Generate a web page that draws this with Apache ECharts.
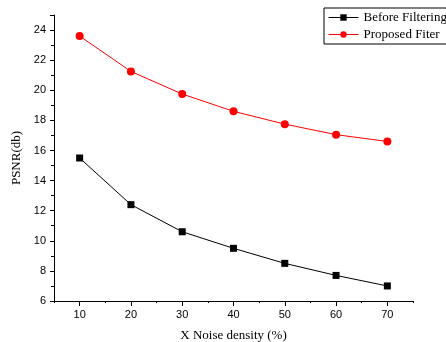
<!DOCTYPE html>
<html><head><meta charset="utf-8">
<script src="https://cdn.jsdelivr.net/npm/echarts@6/dist/echarts.min.js"></script>
<style>html,body{margin:0;padding:0;background:#fff}#c{width:446px;height:342px}</style>
</head><body><div id="c"></div>
<script>
const noise = [10, 20, 30, 40, 50, 60, 70];
const beforeFiltering = [15.5, 12.4, 10.6, 9.5, 8.5, 7.7, 7.0];
const proposedFilter = [23.6, 21.25, 19.75, 18.6, 17.75, 17.05, 16.6];
const xTickLabels = [10, 20, 30, 40, 50, 60, 70];
const seriesNames = ['Before Filtering', 'Proposed Fiter'];

const chart = echarts.init(document.getElementById('c'), null, {renderer: 'canvas'});
const labelFont = {color: '#000', fontFamily: 'Liberation Sans', fontSize: 11};
const nameFont = {fontFamily: 'Liberation Serif', fontSize: 13, color: '#000'};
chart.setOption({
  animation: false,
  backgroundColor: '#fff',
  grid: {left: 54, top: 15, right: 33, bottom: 41, containLabel: false, outerBoundsMode: 'none'},
  legend: {
    left: 324, top: 8, orient: 'vertical',
    borderColor: '#000', borderWidth: 1, padding: [3, 40, 3, 4],
    itemWidth: 30, itemHeight: 8, itemGap: 4,
    lineStyle: {width: 1},
    textStyle: {fontFamily: 'Liberation Serif', fontSize: 13, color: '#000'},
    data: seriesNames
  },
  xAxis: [{
    type: 'value', min: 5, max: 75, interval: 5,
    axisLine: {show: true, lineStyle: {color: '#000', width: 1}},
    axisTick: {show: true, length: 2, lineStyle: {color: '#000'}},
    splitLine: {show: false},
    axisLabel: Object.assign({}, labelFont, {margin: 8, customValues: xTickLabels}),
    name: 'X Noise density (%)', nameLocation: 'middle', nameGap: 28,
    nameTextStyle: nameFont
  }, {
    type: 'value', min: 5, max: 75, interval: 5, position: 'bottom',
    axisLine: {show: false},
    axisTick: {show: true, length: 5, lineStyle: {color: '#000'}, customValues: xTickLabels},
    axisLabel: {show: false},
    splitLine: {show: false}
  }],
  yAxis: {
    type: 'value', min: 6, max: 25, interval: 2,
    axisLine: {show: true, lineStyle: {color: '#000', width: 1}},
    axisTick: {show: true, length: 4, lineStyle: {color: '#000'}},
    minorTick: {show: true, splitNumber: 2, length: 3, lineStyle: {color: '#000'}},
    splitLine: {show: false},
    axisLabel: Object.assign({}, labelFont, {formatter: v => (v <= 24) ? String(v) : ''}),
    name: 'PSNR(db)', nameLocation: 'middle', nameGap: 26,
    nameTextStyle: nameFont
  },
  series: [
    {name: seriesNames[0], type: 'line', symbol: 'rect', symbolSize: 7,
     data: noise.map((x, i) => [x, beforeFiltering[i]]),
     lineStyle: {color: '#000', width: 1}, itemStyle: {color: '#000'}},
    {name: seriesNames[1], type: 'line', symbol: 'circle', symbolSize: 8,
     data: noise.map((x, i) => [x, proposedFilter[i]]),
     lineStyle: {color: '#ff0000', width: 1}, itemStyle: {color: '#ff0000'}}
  ]
});
</script></body></html>
